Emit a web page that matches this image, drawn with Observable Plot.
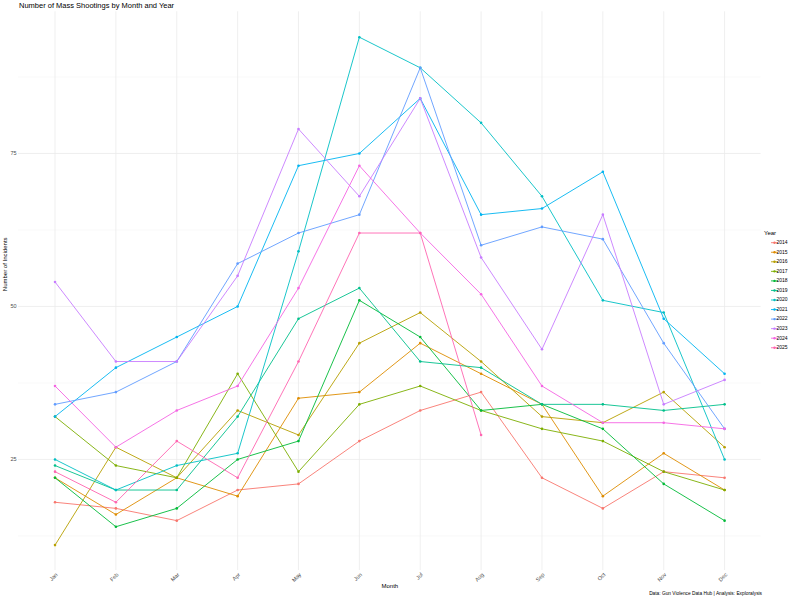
<!DOCTYPE html>
<html>
<head>
<meta charset="utf-8">
<script src="https://cdn.jsdelivr.net/npm/d3@7"></script>
<script src="https://cdn.jsdelivr.net/npm/@observablehq/plot@0.6"></script>
<style>
  html, body { margin: 0; padding: 0; background: #fff; }
  #wrap { position: relative; width: 800px; height: 600px; font-family: "Liberation Sans", Arial, sans-serif; }
  #chart { position: absolute; left: 0; top: 0; }
  #title { position: absolute; left: 19px; top: 1px; font-size: 7.5px; color: #000; white-space: nowrap; line-height: 10px; }
  #caption { position: absolute; right: 38px; top: 590px; font-size: 4.8px; color: #000; white-space: nowrap; line-height: 7px; }
</style>
</head>
<body>
<div id="wrap">
  <div id="chart"></div>
  <div id="title">Number of Mass Shootings by Month and Year</div>
  <div id="caption">Data: Gun Violence Data Hub | Analysis: Exploralysis</div>
</div>
<script>
const months = ["Jan","Feb","Mar","Apr","May","Jun","Jul","Aug","Sep","Oct","Nov","Dec"];
const years = ["2014","2015","2016","2017","2018","2019","2020","2021","2022","2023","2024","2025"];
const palette = ["#F8766D","#DE8C00","#B79F00","#7CAE00","#00BA38","#00C08B","#00BFC4","#00B4F0","#619CFF","#C77CFF","#F564E3","#FF64B0"];

const counts2014 = [18,17,15,20,21,28,33,36,22,17,23,22];
const counts2015 = [22,16,22,19,35,36,44,39,34,19,26,20];
const counts2016 = [11,27,22,33,29,44,49,41,32,31,36,27];
const counts2017 = [32,24,22,39,23,34,37,33,30,28,23,20];
const counts2018 = [22,14,17,25,28,51,45,33,34,30,21,15];
const counts2019 = [24,20,20,32,48,53,41,40,34,34,33,34];
const counts2020 = [25,20,24,26,59,94,89,80,68,51,49,25];
const counts2021 = [32,40,45,50,73,75,84,65,66,72,48,39];
const counts2022 = [34,36,41,57,62,65,89,60,63,61,44,30];
const counts2023 = [54,41,41,55,79,68,84,58,43,65,34,38];
const counts2024 = [37,27,33,37,53,73,62,52,37,31,31,30];
const counts2025 = [23,18,28,22,41,62,62,29];

const majorTicks = [25, 50, 75];
const minorTicks = [12.5, 37.5, 62.5, 87.5];

const series = [counts2014,counts2015,counts2016,counts2017,counts2018,counts2019,
                counts2020,counts2021,counts2022,counts2023,counts2024,counts2025];
const data = [];
series.forEach((vals, i) => vals.forEach((v, j) => data.push({year: years[i], month: months[j], count: v})));

const font = '"Liberation Sans", Arial, sans-serif';

const plot = Plot.plot({
  width: 800,
  height: 600,
  marginLeft: 18,
  marginRight: 39.4,
  marginTop: 11.3,
  marginBottom: 30,
  style: { fontFamily: font, background: "transparent", overflow: "visible" },
  x: { type: "point", domain: months, padding: 0.6, round: false, axis: null },
  y: { domain: [6.85, 98.15], axis: null },
  color: { domain: years, range: palette },
  marks: [
    Plot.ruleY(minorTicks, { stroke: "#F3F3F3", strokeWidth: 0.5 }),
    Plot.ruleY(majorTicks, { stroke: "#EBEBEB", strokeWidth: 0.8 }),
    Plot.ruleX(months, { x: d => d, stroke: "#EBEBEB", strokeWidth: 0.8 }),
    Plot.line(data, { x: "month", y: "count", stroke: "year", z: "year", strokeWidth: 0.9 }),
    Plot.dot(data, { x: "month", y: "count", fill: "year", r: 1.3 }),
    Plot.axisY({ ticks: majorTicks, tickSize: 0, tickPadding: 2, fontSize: 5.5, fill: "#4D4D4D", label: null }),
    Plot.text(months, { x: d => d, frameAnchor: "bottom", dx: 3, dy: 4.5, rotate: -45, textAnchor: "end", fontSize: 5.5, fill: "#4D4D4D" }),
    Plot.text(["Month"], { frameAnchor: "bottom", dy: 17, fontSize: 6, fill: "#000" }),
    Plot.text(["Number of Incidents"], { frameAnchor: "left", dx: -13, rotate: -90, fontSize: 6, fill: "#000" })
  ]
});

document.getElementById("chart").appendChild(plot);

// Legend built from the plot's colour scale
const color = plot.scale("color");
const lg = d3.select(plot).append("g").attr("font-family", font);
lg.append("text").attr("x", 770).attr("y", 233).attr("dominant-baseline", "middle")
  .attr("font-size", 6).attr("fill", "#000").text("Year");
years.forEach((yr, i) => {
  const cy = 242.7 + i * 9.55;
  const c = color.apply(yr);
  lg.append("line").attr("x1", 771).attr("x2", 778).attr("y1", cy).attr("y2", cy)
    .attr("stroke", c).attr("stroke-width", 0.9);
  lg.append("circle").attr("cx", 774.5).attr("cy", cy).attr("r", 1.2).attr("fill", c);
  lg.append("text").attr("x", 782).attr("y", cy).attr("dominant-baseline", "middle")
    .attr("font-size", 5).attr("fill", "#000").text(yr);
});
</script>
</body>
</html>
